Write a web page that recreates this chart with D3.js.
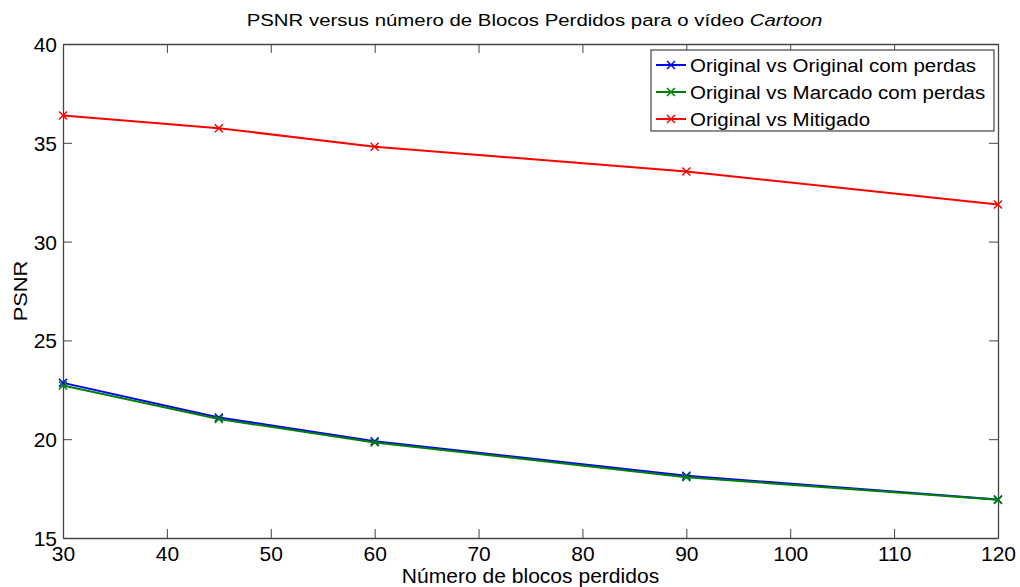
<!DOCTYPE html>
<html>
<head>
<meta charset="utf-8">
<script src="https://cdn.jsdelivr.net/npm/d3@7"></script>
<style>
  body { margin: 0; background: #fff; }
  svg text { font-family: "Liberation Sans", Arial, sans-serif; fill: #000; }
</style>
</head>
<body>
<script>
// blocos perdidos (eixo x)
const blocos = [30, 45, 60, 90, 120];
// PSNR por série
const origVsOrigPerdas = [22.85, 21.1, 19.9, 18.15, 16.95];
const origVsMarcadoPerdas = [22.72, 21.02, 19.83, 18.08, 16.93];
const origVsMitigado = [36.38, 35.74, 34.8, 33.55, 31.88];
const seriesNames = ["Original vs Original com perdas", "Original vs Marcado com perdas", "Original vs Mitigado"];
const seriesColors = ["#0000ff", "#008000", "#ff0000"];
const xTicks = [30, 40, 50, 60, 70, 80, 90, 100, 110, 120];
const yTicks = [15, 20, 25, 30, 35, 40];

const W = 1020, H = 587;
const mLeft = 63, mRight = 998, mTop = 44, mBottom = 538;

const svg = d3.select("body").append("svg")
  .attr("width", W).attr("height", H);

const x = d3.scaleLinear().domain([30, 120]).range([mLeft, mRight]);
const y = d3.scaleLinear().domain([15, 40]).range([mBottom, mTop]);

const axisCol = "#444";

// text a bit stretched sideways, like the original export
function stretched(px, py, sx, size, anchor) {
  return svg.append("g").attr("transform", `translate(${px},${py}) scale(${sx},1)`)
    .append("text").attr("text-anchor", anchor).style("font-size", size + "px");
}

// axes box + inward ticks (matlab style)
const xa = svg.append("g").attr("transform", `translate(0,${mBottom})`)
  .call(d3.axisBottom(x).tickValues(xTicks).tickSizeInner(-9).tickSizeOuter(0).tickPadding(12));
const ya = svg.append("g").attr("transform", `translate(${mLeft},0)`)
  .call(d3.axisLeft(y).tickValues(yTicks).tickSizeInner(-9).tickSizeOuter(0).tickPadding(6));
const xt = svg.append("g").attr("transform", `translate(0,${mTop})`)
  .call(d3.axisTop(x).tickValues(xTicks).tickSizeInner(-9).tickSizeOuter(0).tickFormat(""));
const yr = svg.append("g").attr("transform", `translate(${mRight},0)`)
  .call(d3.axisRight(y).tickValues(yTicks).tickSizeInner(-9).tickSizeOuter(0).tickFormat(""));

[xa, ya, xt, yr].forEach(g => {
  g.selectAll("path.domain").attr("stroke", axisCol).attr("stroke-width", 1.3);
  g.selectAll(".tick line").attr("stroke", axisCol).attr("stroke-width", 1);
  g.selectAll(".tick text").style("font-size", "21px").attr("fill", "#000");
});
xa.selectAll(".tick text").attr("dy", "0.5em");
ya.selectAll(".tick text").attr("dy", "0.36em");

// series
const all = [origVsOrigPerdas, origVsMarcadoPerdas, origVsMitigado];
const line = d3.line().x((d, i) => x(blocos[i])).y(d => y(d));

const marker = (g, cx, cy, col) => {
  const s = 4;
  g.append("path")
    .attr("d", `M${cx - s},${cy - s}L${cx + s},${cy + s}M${cx - s},${cy + s}L${cx + s},${cy - s}`)
    .attr("stroke", col).attr("stroke-width", 1.5).attr("fill", "none");
};

all.forEach((vals, k) => {
  const g = svg.append("g");
  g.append("path").datum(vals)
    .attr("d", line)
    .attr("fill", "none")
    .attr("stroke", seriesColors[k])
    .attr("stroke-width", 2);
  vals.forEach((v, i) => marker(g, x(blocos[i]), y(v), seriesColors[k]));
});

// legend
const lg = svg.append("g");
lg.append("rect").attr("x", 651).attr("y", 50).attr("width", 343).attr("height", 81)
  .attr("fill", "#fff").attr("stroke", axisCol).attr("stroke-width", 1.2);
seriesNames.forEach((n, k) => {
  const cy = 65 + k * 27;
  lg.append("line").attr("x1", 656).attr("x2", 686).attr("y1", cy).attr("y2", cy)
    .attr("stroke", seriesColors[k]).attr("stroke-width", 2);
  marker(lg, 671, cy, seriesColors[k]);
  stretched(690, cy, 1.08, 19, "start").attr("dy", "0.36em").text(n);
});

// title
const title = stretched((mLeft + mRight) / 2 + 4, 26, 1.2, 17, "middle");
title.append("tspan").text("PSNR versus número de Blocos Perdidos para o vídeo ");
title.append("tspan").style("font-style", "italic").text("Cartoon");

// axis labels
stretched((mLeft + mRight) / 2, 583, 1.08, 19.5, "middle").text("Número de blocos perdidos");
svg.append("g").attr("transform", `translate(27,${(mTop + mBottom) / 2}) rotate(-90) scale(1.15,1)`)
  .append("text").attr("text-anchor", "middle").style("font-size", "19px").text("PSNR");
</script>
</body>
</html>
